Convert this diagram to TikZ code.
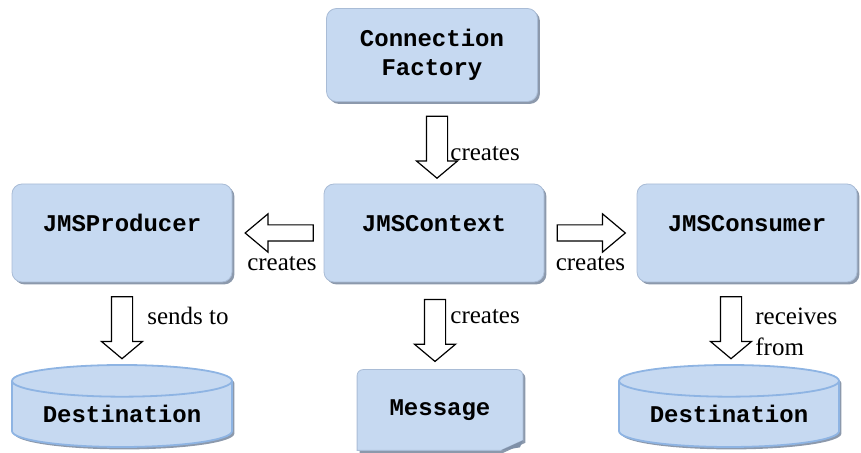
\documentclass[tikz,border=0pt]{standalone}
\usepackage{fontspec}
\setmainfont{Liberation Serif}
\setmonofont{Liberation Mono}
\usetikzlibrary{calc, shapes.geometric, shapes.arrows, shadows, backgrounds}

\definecolor{boxblue}{HTML}{C6D9F1}
\definecolor{boxedge}{HTML}{A9BCD6}
\definecolor{dbedge}{HTML}{8EB4E3}
\definecolor{shadowgray}{HTML}{8C99AC}
\definecolor{foldgray}{HTML}{7F90A8}

\newcommand{\boxfont}{\ttfamily\bfseries\fontsize{12}{14.5}\selectfont}

\tikzset{
    softshadow/.style={drop shadow={shadow xshift=1.2pt, shadow yshift=-1.2pt, fill=shadowgray, opacity=1}},
    jmsbox/.style={rectangle, rounded corners=5pt, fill=boxblue, draw=boxedge, line width=0.4pt,
        minimum width=110pt, minimum height=49pt, inner sep=0pt, font=\boxfont, softshadow},
    dbase/.style={cylinder, shape border rotate=90, aspect=0.2, draw=dbedge, line width=0.9pt,
        fill=boxblue, minimum width=110pt, minimum height=41pt, inner sep=0pt,
        font=\boxfont, softshadow, anchor=shape center},
    blockarrow/.style={single arrow, draw=black, fill=white, line width=0.6pt, inner sep=5pt,
        single arrow head extend=5pt, single arrow tip angle=100, minimum height=31pt},
    sidearrow/.style={blockarrow, inner sep=3.75pt, single arrow head extend=5.5pt,
        single arrow tip angle=80, minimum height=34pt},
    lbl/.style={font=\fontsize{12.5}{15.5}\selectfont, inner sep=0pt},
}

\begin{document}
\begin{tikzpicture}[x=0.5pt, y=-0.5pt]

    \useasboundingbox (0, 0) rectangle (861, 453);

    \node[jmsbox, minimum width=105.5pt, minimum height=46.5pt, align=center] (factory) at (432, 55) {Connection\\Factory};
    \node[jmsbox, text height=8pt, text depth=9.2pt] (producer) at (122, 233) {JMSProducer};
    \node[jmsbox, text height=8pt, text depth=9.2pt] (context) at (434, 233) {JMSContext};
    \node[jmsbox, text height=8pt, text depth=9.2pt] (consumer) at (747, 233) {JMSConsumer};

    \node[dbase] (destleft) at (122, 406) {Destination};
    \node[dbase] (destright) at (729, 406) {Destination};

    \node[minimum width=82.5pt, minimum height=40pt, inner sep=0pt, font=\boxfont] (message) at (440, 410) {Message};
    \begin{pgfonlayer}{background}
        \path[fill=boxblue, draw=boxedge, line width=0.4pt, softshadow]
            ([xshift=3pt]message.north west) -- ([xshift=-3pt]message.north east)
            to[out=0, in=90] ([yshift=-3pt]message.north east)
            -- ([yshift=5pt]message.south east) -- ([xshift=-11pt]message.south east)
            -- (message.south west) -- ([yshift=-3pt]message.north west)
            to[out=90, in=180] cycle;
        \fill[foldgray] ([yshift=5pt]message.south east) -- ([xshift=-11pt]message.south east)
            -- ([xshift=-1.5pt, yshift=1.5pt]message.south east) -- cycle;
    \end{pgfonlayer}

    \node[blockarrow, shape border rotate=270, xshift=2pt] (mkcontext) at ($(factory.south)!0.5!(context.north)$) {};
    \node[sidearrow, shape border rotate=180, xshift=3pt] (mkproducer) at ($(producer.east)!0.5!(context.west)$) {};
    \node[sidearrow, xshift=-2pt] (mkconsumer) at ($(context.east)!0.5!(consumer.west)$) {};
    \node[blockarrow, shape border rotate=270] (sendto) at ($(producer.south)!0.5!(destleft.north)$) {};
    \node[blockarrow, shape border rotate=270, xshift=-1pt] (mkmessage) at ($(context.south)!0.5!(message.north)$) {};
    \node[blockarrow, shape border rotate=270, xshift=-3.5pt] (recvfrom) at ($(consumer.south)!0.5!(destright.north)$) {};

    \node[lbl, anchor=west] (lblfactory) at ($(mkcontext.center)+(13, 11)$) {creates};
    \node[lbl] (lblproducer) at ($(mkproducer.center)+(-2, 31)$) {creates};
    \node[lbl] (lblconsumer) at ($(mkconsumer.center)+(4, 31)$) {creates};
    \node[lbl, anchor=west] (lblsend) at ($(sendto.center)+(25, -7)$) {sends to};
    \node[lbl, anchor=west] (lblmessage) at ($(mkmessage.center)+(15, -9)$) {creates};
    \node[lbl, anchor=west, align=left] (lblrecv) at ($(recvfrom.center)+(24, 9)$) {receives\\from};

\end{tikzpicture}
\end{document}
